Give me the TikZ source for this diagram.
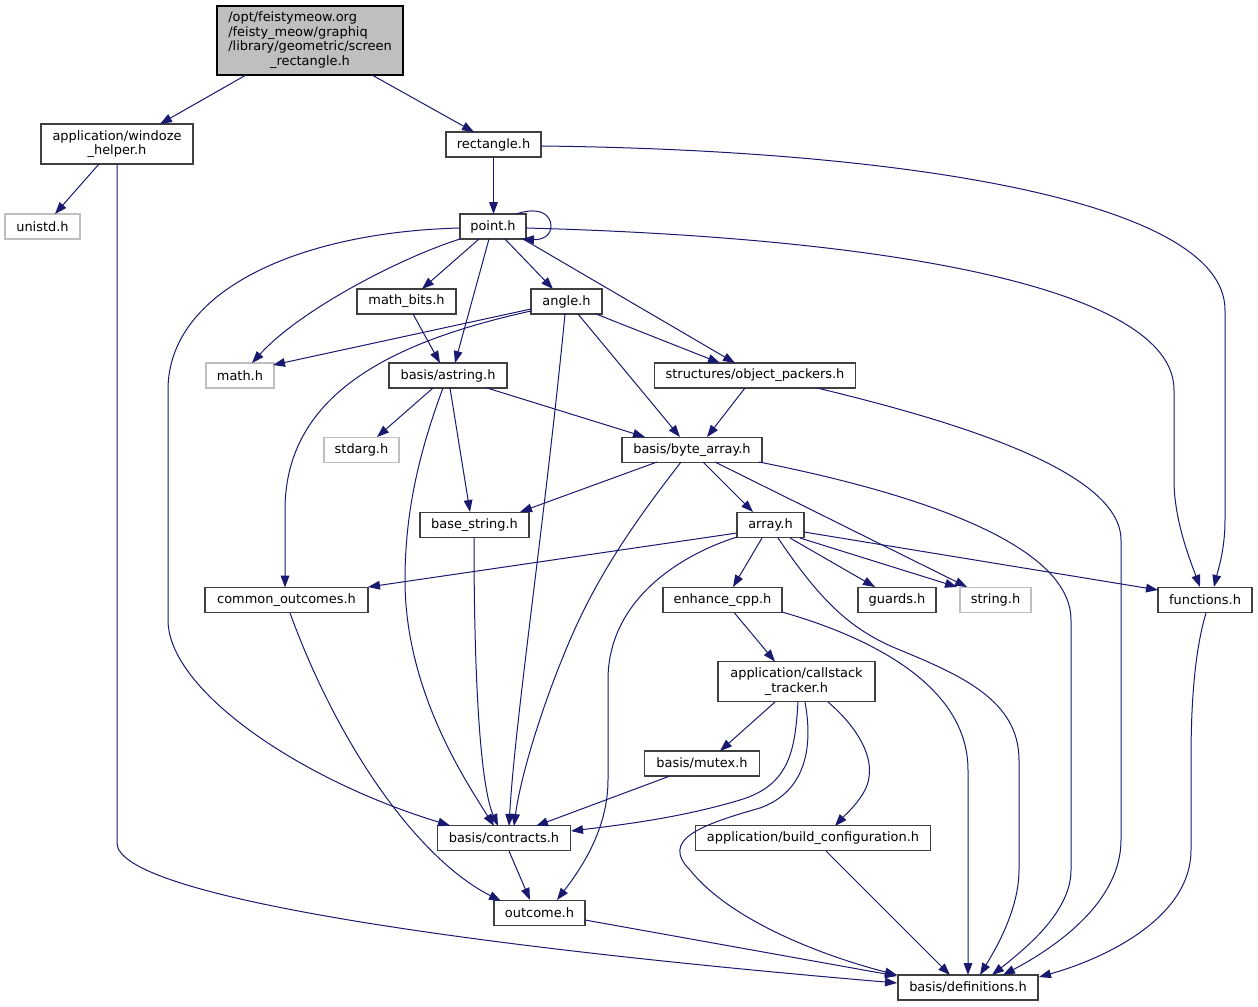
\documentclass[tikz,border=0pt]{standalone}
\usepackage{fontspec}
\setmainfont{DejaVu Sans}
\usetikzlibrary{arrows.meta}
\definecolor{edgec}{HTML}{191970}
\definecolor{nodeb}{HTML}{404040}
\definecolor{grayb}{HTML}{BFBFBF}
\begin{document}
\begin{tikzpicture}[x=0.75pt,y=-0.75pt,font=\fontsize{9.7}{11}\selectfont,
  box/.style={draw=nodeb,line width=0.8pt,fill=white,inner sep=0pt,align=center},
  ext/.style={draw=grayb,line width=0.8pt,fill=white,inner sep=0pt,align=center},
  sz/.style 2 args={minimum width=#1*0.75pt,minimum height=#2*0.75pt},
  e/.style={draw=edgec,line width=0.75pt,-{Triangle[length=9pt,width=6.5pt]}}]
\fill[white] (0,0) rectangle (1258,1007);
% nodes
\node[box,sz={186}{69},fill=grayb,draw=black] (root) at (310,40.5)
  {\begin{tabular}{@{}l@{}}/opt/feistymeow.org\\/feisty\_meow/graphiq\\/library/geometric/screen\\\multicolumn{1}{@{}c@{}}{\_rectangle.h}\end{tabular}};
\node[box,sz={152}{40}] (win) at (117,144) {application/windoze\\\_helper.h};
\node[box,sz={95}{25}] (rect) at (493.5,144.5) {rectangle.h};
\node[ext,sz={75}{25}] (unistd) at (42.5,226.5) {unistd.h};
\node[box,sz={66}{25}] (point) at (493,226.5) {point.h};
\node[box,sz={99}{25}] (mbits) at (406.5,301.5) {math\_bits.h};
\node[box,sz={71}{25}] (angle) at (566.5,301.5) {angle.h};
\node[ext,sz={68}{25}] (math) at (240,375.5) {math.h};
\node[box,sz={118}{25}] (astr) at (448,375.5) {basis/astring.h};
\node[box,sz={201}{25}] (objp) at (755,375.5) {structures/object\_packers.h};
\node[ext,sz={75}{25}] (stdarg) at (361.5,450) {stdarg.h};
\node[box,sz={140}{25}] (barr) at (692,450) {basis/byte\_array.h};
\node[box,sz={109}{25}] (bstr) at (474.5,525) {base\_string.h};
\node[box,sz={67}{25}] (arr) at (770.5,525) {array.h};
\node[box,sz={163}{25}] (cout) at (286.5,600) {common\_outcomes.h};
\node[box,sz={119}{25}] (ecpp) at (722.5,600) {enhance\_cpp.h};
\node[box,sz={78}{25}] (guards) at (897,600) {guards.h};
\node[ext,sz={71}{25}] (str) at (995.5,600) {string.h};
\node[box,sz={94}{25}] (func) at (1205,600) {functions.h};
\node[box,sz={157}{40}] (cst) at (796.5,681.5) {application/callstack\\\_tracker.h};
\node[box,sz={115}{25}] (mutex) at (702,763.5) {basis/mutex.h};
\node[box,sz={133}{25}] (contr) at (504,838) {basis/contracts.h};
\node[box,sz={235}{25}] (bconf) at (813,838) {application/build\_configuration.h};
\node[box,sz={91}{25}] (outc) at (539.5,913) {outcome.h};
\node[box,sz={140}{25}] (defs) at (968,987.5) {basis/definitions.h};
% edges
\draw[e] ([shift={(-64,34.5)}]root.center) -- ([shift={(43,-20)}]win.center);
\draw[e] ([shift={(62,34.5)}]root.center) -- ([shift={(-19.5,-12.5)}]rect.center);
\draw[e] ([shift={(-18,20)}]win.center) -- ([shift={(12.5,-12.5)}]unistd.center);
\draw[e] ([shift={(0,20)}]win.center) -- (117,843) .. controls (117,895) and (450,945) .. ([shift={(-71,-4.5)}]defs.center);
\draw[e] ([shift={(0,12.5)}]rect.center) -- ([shift={(0.5,-12.5)}]point.center);
\draw[e] ([shift={(47.5,1.5)}]rect.center) .. controls (900,150) and (1225,200) .. (1225,310) -- (1225,520) .. controls (1225,550) and (1218,570) .. ([shift={(9,-13)}]func.center);
\draw[e] ([shift={(23,-12.5)}]point.center) .. controls (540,206) and (551,215) .. (551,226) .. controls (551,237) and (540,240) .. ([shift={(29,12.5)}]point.center);
\draw[e] ([shift={(-14,12.5)}]point.center) -- ([shift={(15.5,-12.5)}]mbits.center);
\draw[e] ([shift={(12,12.5)}]point.center) -- ([shift={(-13.5,-12.5)}]angle.center);
\draw[e] ([shift={(-33,12.5)}]point.center) .. controls (400,258) and (300,310) .. ([shift={(12,-12.5)}]math.center);
\draw[e] ([shift={(-4,12.5)}]point.center) -- ([shift={(7,-12.5)}]astr.center);
\draw[e] ([shift={(30,12.5)}]point.center) -- ([shift={(-20,-12.5)}]objp.center);
\draw[e] ([shift={(-33,1.5)}]point.center) .. controls (300,232) and (168,290) .. (168,390) -- (168,620) .. controls (168,690) and (300,780) .. ([shift={(-54,-12.5)}]contr.center);
\draw[e] ([shift={(33,1.5)}]point.center) .. controls (900,238) and (1174,290) .. (1174,390) -- (1174,480) .. controls (1174,520) and (1190,560) .. ([shift={(-5,-13)}]func.center);
\draw[e] ([shift={(6.5,12.5)}]mbits.center) -- ([shift={(-8,-12.5)}]astr.center);
\draw[e] ([shift={(-35.5,7.5)}]angle.center) -- ([shift={(33,-10.5)}]math.center);
\draw[e] ([shift={(-35.5,9.5)}]angle.center) .. controls (400,340) and (285,390) .. (285,510) -- ([shift={(-1.5,-12.5)}]cout.center);
\draw[e] ([shift={(-1.5,12.5)}]angle.center) .. controls (545,520) and (515,720) .. ([shift={(5,-12)}]contr.center);
\draw[e] ([shift={(11.5,12.5)}]angle.center) -- ([shift={(-12,-13)}]barr.center);
\draw[e] ([shift={(29.5,12.5)}]angle.center) -- ([shift={(-35,-12.5)}]objp.center);
\draw[e] ([shift={(-15,12.5)}]astr.center) -- ([shift={(15.5,-13)}]stdarg.center);
\draw[e] ([shift={(39,12.5)}]astr.center) -- ([shift={(-47,-13)}]barr.center);
\draw[e] ([shift={(2,12.5)}]astr.center) -- ([shift={(-4.5,-13)}]bstr.center);
\draw[e] ([shift={(-5,12.5)}]astr.center) .. controls (420,450) and (405,510) .. (405,580) .. controls (405,690) and (465,780) .. ([shift={(-10,-12)}]contr.center);
\draw[e] ([shift={(-10,12.5)}]objp.center) -- ([shift={(15,-13)}]barr.center);
\draw[e] ([shift={(62,12.5)}]objp.center) .. controls (950,420) and (1121,470) .. (1121,540) -- (1121,840) .. controls (1121,900) and (1060,945) .. ([shift={(35,-12.5)}]defs.center);
\draw[e] ([shift={(-35,12)}]barr.center) -- ([shift={(45.5,-13)}]bstr.center);
\draw[e] ([shift={(11,12)}]barr.center) -- ([shift={(-17.5,-13)}]arr.center);
\draw[e] ([shift={(23,12)}]barr.center) -- ([shift={(-28.5,-13)}]str.center);
\draw[e] ([shift={(-11,12)}]barr.center) .. controls (640,515) and (600,570) .. (570,640) .. controls (540,710) and (520,780) .. ([shift={(10,-12)}]contr.center);
\draw[e] ([shift={(67,12)}]barr.center) .. controls (900,490) and (1071,540) .. (1071,620) -- (1071,870) .. controls (1071,910) and (1030,945) .. ([shift={(24,-12.5)}]defs.center);
\draw[e] ([shift={(-0.5,13)}]bstr.center) .. controls (474,700) and (482,790) .. ([shift={(-6,-12)}]contr.center);
\draw[e] ([shift={(-33.5,8)}]arr.center) -- ([shift={(81.5,-13)}]cout.center);
\draw[e] ([shift={(-8.5,13)}]arr.center) -- ([shift={(10.5,-13)}]ecpp.center);
\draw[e] ([shift={(19.5,13)}]arr.center) -- ([shift={(-22,-13)}]guards.center);
\draw[e] ([shift={(29.5,13)}]arr.center) -- ([shift={(-38.5,-13)}]str.center);
\draw[e] ([shift={(33.5,7)}]arr.center) -- ([shift={(-47,-10)}]func.center);
\draw[e] ([shift={(-33.5,12)}]arr.center) .. controls (680,555) and (608,600) .. (608,680) -- (608,780) .. controls (608,830) and (580,870) .. ([shift={(17.5,-13)}]outc.center);
\draw[e] ([shift={(7.5,13)}]arr.center) .. controls (820,600) and (850,630) .. (900,650) .. controls (960,675) and (1019,700) .. (1019,760) -- (1019,870) .. controls (1019,910) and (995,950) .. ([shift={(12,-12.5)}]defs.center);
\draw[e] ([shift={(3.5,13)}]cout.center) .. controls (340,750) and (420,860) .. ([shift={(-38.5,-12)}]outc.center);
\draw[e] ([shift={(12,13)}]ecpp.center) -- ([shift={(-21.5,-20)}]cst.center);
\draw[e] ([shift={(59.5,12)}]ecpp.center) .. controls (880,640) and (968,690) .. (968,770) -- ([shift={(0,-12.5)}]defs.center);
\draw[e] ([shift={(-21.5,20.5)}]cst.center) -- ([shift={(18,-12.5)}]mutex.center);
\draw[e] ([shift={(1.5,20.5)}]cst.center) .. controls (795,750) and (790,785) .. (740,800) .. controls (680,818) and (620,825) .. ([shift={(67,-7)}]contr.center);
\draw[e] ([shift={(31.5,20.5)}]cst.center) .. controls (855,725) and (880,760) .. (865,790) .. controls (857,805) and (845,815) .. ([shift={(22,-12)}]bconf.center);
\draw[e] ([shift={(8.5,20.5)}]cst.center) .. controls (812,740) and (810,790) .. (760,808) .. controls (700,825) and (660,840) .. (690,870) .. controls (730,920) and (820,955) .. ([shift={(-71,-12.5)}]defs.center);
\draw[e] ([shift={(-32,12.5)}]mutex.center) -- ([shift={(32,-12)}]contr.center);
\draw[e] ([shift={(5,13)}]contr.center) -- ([shift={(-9.5,-13)}]outc.center);
\draw[e] ([shift={(13,13)}]bconf.center) -- ([shift={(-18,-12.5)}]defs.center);
\draw[e] ([shift={(45.5,7)}]outc.center) -- ([shift={(-71,-11.5)}]defs.center);
\draw[e] ([shift={(1,13)}]func.center) .. controls (1195,650) and (1191,700) .. (1191,760) -- (1191,850) .. controls (1191,920) and (1100,960) .. ([shift={(71,-10.5)}]defs.center);
\end{tikzpicture}
\end{document}
